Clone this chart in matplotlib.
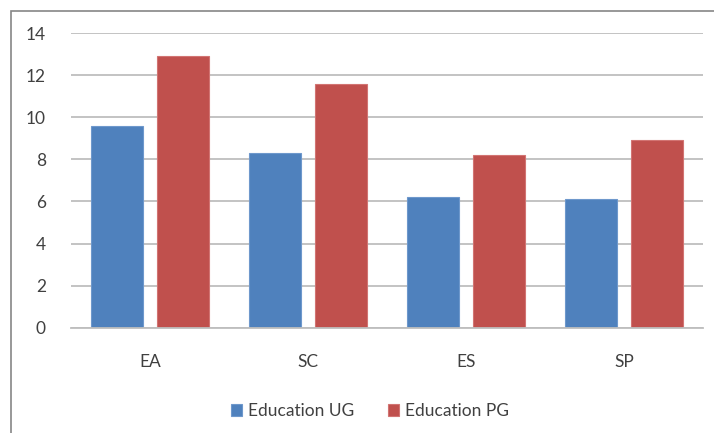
import matplotlib
matplotlib.use("Agg")
import matplotlib.pyplot as plt
from matplotlib.patches import Rectangle
import numpy as np

categories = ["EA", "SC", "ES", "SP"]
ug_values = [9.6, 8.3, 6.2, 6.1]
pg_values = [12.9, 11.6, 8.2, 8.9]
series_names = ["Education UG", "Education PG"]
y_ticks = [0, 2, 4, 6, 8, 10, 12, 14]

plt.rcParams['font.family'] = ['Lato', 'DejaVu Sans']

W, H = 714, 433
fig = plt.figure(figsize=(W/100, H/100), dpi=100)
# outer chart frame (cut off on right/bottom)
fig.patches.append(Rectangle((10.5/W, -0.05), 1.1, 1 - 10.5/H + 0.05, transform=fig.transFigure,
                             fill=False, edgecolor='#868686', linewidth=1.2))

left, right = 71/W, 703/W
bottom, top = 1 - 327.7/H, 1 - 33/H
ax = fig.add_axes([left, bottom, right-left, top-bottom])

x = np.arange(len(categories))
w = 0.33
off = 0.207
ax.bar(x - off, ug_values, w, color='#4F81BD', edgecolor='#6E98CC', linewidth=0.8,
       label=series_names[0], zorder=3)
ax.bar(x + off, pg_values, w, color='#C0504D', edgecolor='#D27472', linewidth=0.8,
       label=series_names[1], zorder=3)

ax.set_xlim(-0.5, len(categories) - 0.5)
ax.set_ylim(0, 14)
ax.set_yticks(y_ticks)
ax.set_xticks(x)
ax.set_xticklabels(categories)
for s in ['top', 'right', 'left']:
    ax.spines[s].set_visible(False)
ax.spines['bottom'].set_color('#BEBEBE')
ax.spines['bottom'].set_linewidth(1.3)
ax.spines['bottom'].set_zorder(4)
ax.yaxis.grid(True, color='#BEBEBE', linewidth=1.3, zorder=0)
ax.set_axisbelow(True)
ax.tick_params(axis='both', length=0, labelsize=12.5, colors='#404040')
ax.tick_params(axis='y', pad=18)
ax.tick_params(axis='x', pad=19)

leg = fig.legend(loc='center', bbox_to_anchor=(370/W, 1 - 411/H), ncol=2, frameon=False,
                 fontsize=12.5, handlelength=0.65, handleheight=0.65, handletextpad=0.35,
                 columnspacing=1.9)
for t in leg.get_texts():
    t.set_color('#404040')

fig.savefig("out.png", dpi=100)
